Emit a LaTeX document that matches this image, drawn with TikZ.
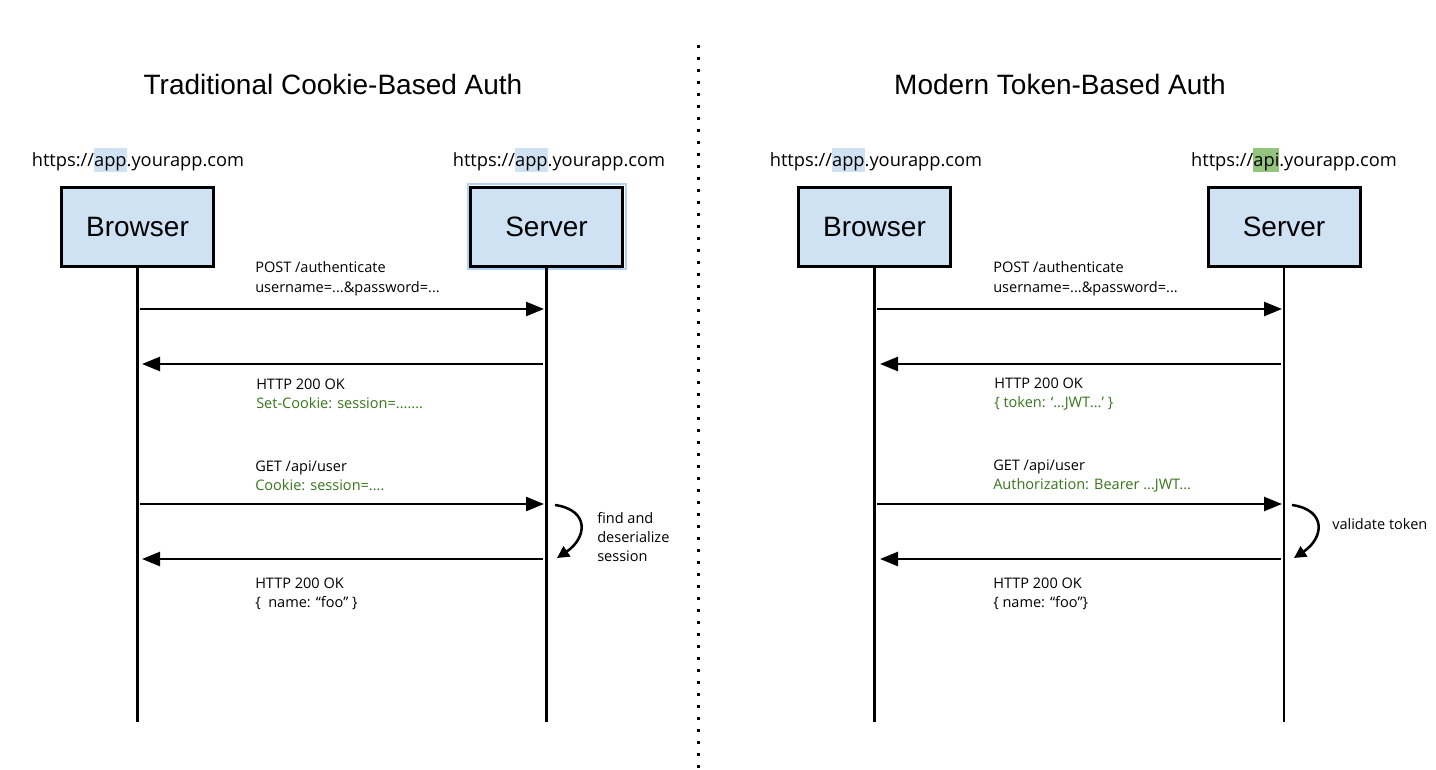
\documentclass[tikz,border=0pt]{standalone}
\usepackage{fontspec}
\setmainfont{Open Sans}
\newfontfamily\headfont{Liberation Sans}
\usetikzlibrary{arrows.meta}
\definecolor{boxblue}{HTML}{CFE2F3}
\definecolor{hlgreen}{HTML}{93C47D}
\definecolor{msggreen}{HTML}{38761D}
\definecolor{glowblue}{HTML}{B4D0F5}
\newcommand\hlword[2]{{\setlength{\fboxsep}{0pt}\colorbox{#1}{\rule[-0.3em]{0pt}{1.35em}#2}}}
\newcommand\grn[1]{\textcolor{msggreen}{#1}}
\begin{document}
\begin{tikzpicture}[x=0.75pt,y=-0.75pt,
  actor/.style={draw, line width=2.25pt, fill=boxblue, minimum width=114pt,
    minimum height=59.25pt, inner sep=0pt, font=\headfont\fontsize{21}{25}\selectfont},
  heading/.style={font=\headfont\fontsize{21}{25}\selectfont, inner sep=0pt},
  url/.style={font=\fontsize{13.7}{16}\selectfont, inner sep=0pt},
  msg/.style={font=\fontsize{10.9}{14.6}\selectfont, align=left, anchor=west, inner sep=0pt},
  lifeline/.style={line width=1.9pt},
  call/.style={line width=1.9pt, -{Triangle[length=13.5pt,width=10.5pt]}},
  self/.style={line width=1.9pt, -{Triangle[length=9pt,width=9pt]}},
  divider/.style={line width=2.25pt, dash pattern=on 2.25pt off 6.75pt}
]
\useasboundingbox (0,0) rectangle (1436,770);
\fill[white] (0,0) rectangle (1436,770);

% divider between the two schemes
\coordinate (dtop) at (698,45);
\coordinate (dbot) at (698,770);
\draw[divider] (dtop) -- (dbot);

% ---------------- cookie-based side ----------------
\node[heading] (titleL) at (333,84) {Traditional Cookie-Based Auth};
\node[url] (urlLB) at (138,160) {https://\hlword{boxblue}{app}.yourapp.com};
\node[url] (urlLS) at (559,160) {https://\hlword{boxblue}{app}.yourapp.com};

\node[actor] (browserL) at (137.5,227) {Browser};
\node[draw=glowblue, line width=1.5pt, minimum width=118.5pt, minimum height=63.75pt, inner sep=0pt] (glowL) at (546.5,227) {};
\node[actor] (serverL) at (546.5,227) {Server};

\coordinate (bLend) at (137.5,722);
\coordinate (sLend) at (546.5,722);
\draw[lifeline] (browserL.south) -- (bLend);
\draw[lifeline] (serverL.south) -- (sLend);

\coordinate (bL1) at (140,309);  \coordinate (sL1) at (544,309);
\coordinate (sL2) at (543,364);  \coordinate (bL2) at (142,364);
\coordinate (bL3) at (140,504);  \coordinate (sL3) at (544,504);
\coordinate (sL4) at (543,559);  \coordinate (bL4) at (142,559);
\draw[call] (bL1) -- (sL1);
\draw[call] (sL2) -- (bL2);
\draw[call] (bL3) -- (sL3);
\draw[call] (sL4) -- (bL4);

\coordinate (selfL1) at (555,505);
\coordinate (selfL2) at (557,558);
\draw[self] (selfL1) .. controls +(35,5) and +(30,-20) .. (selfL2);

\node[msg] (mL1) at (255,278.5) {POST /authenticate\\username=...\&password=...};
\node[msg] (mL2) at (256,394) {HTTP 200 OK\\\grn{Set-Cookie: session=.......}};
\node[msg] (mL3) at (255,476) {GET /api/user\\\grn{Cookie: session=....}};
\node[msg] (mL4) at (255,594) {HTTP 200 OK\\\{\ \ name: “foo” \}};
\node[msg] (procL) at (597,537) {find and\\deserialize\\session};

% ---------------- token-based side ----------------
\node[heading] (titleR) at (1060,84) {Modern Token-Based Auth};
\node[url] (urlRB) at (876,160) {https://\hlword{boxblue}{app}.yourapp.com};
\node[url] (urlRS) at (1294,160) {https://\hlword{hlgreen}{api}.yourapp.com};

\node[actor] (browserR) at (874.5,227) {Browser};
\node[actor] (serverR) at (1284,227) {Server};

\coordinate (bRend) at (874.5,722);
\coordinate (sRend) at (1284,722);
\draw[lifeline] (browserR.south) -- (bRend);
\draw[lifeline] (serverR.south) -- (sRend);

\coordinate (bR1) at (877,309);  \coordinate (sR1) at (1282,309);
\coordinate (sR2) at (1281,364); \coordinate (bR2) at (880,364);
\coordinate (bR3) at (877,504);  \coordinate (sR3) at (1282,504);
\coordinate (sR4) at (1281,559); \coordinate (bR4) at (880,559);
\draw[call] (bR1) -- (sR1);
\draw[call] (sR2) -- (bR2);
\draw[call] (bR3) -- (sR3);
\draw[call] (sR4) -- (bR4);

\coordinate (selfR1) at (1292,505);
\coordinate (selfR2) at (1294,558);
\draw[self] (selfR1) .. controls +(35,5) and +(30,-20) .. (selfR2);

\node[msg] (mR1) at (993,278.5) {POST /authenticate\\username=...\&password=...};
\node[msg] (mR2) at (994,394) {HTTP 200 OK\\\grn{\{ token: ‘...JWT…’ \}}};
\node[msg] (mR3) at (993,476) {GET /api/user\\\grn{Authorization: Bearer ...JWT...}};
\node[msg] (mR4) at (993,594) {HTTP 200 OK\\\{ name: “foo”\}};
\node[msg] (procR) at (1332,524) {validate token};
\end{tikzpicture}
\end{document}
